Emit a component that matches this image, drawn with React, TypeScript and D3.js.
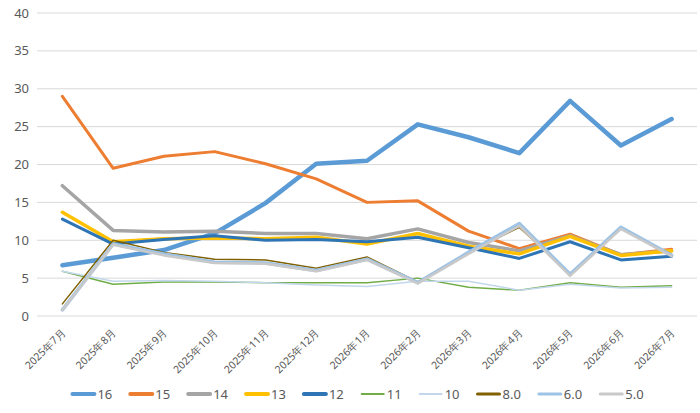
import * as d3 from 'd3'
import { useEffect } from 'react'

const months = [
  '2025年7月', '2025年8月', '2025年9月', '2025年10月', '2025年11月', '2025年12月',
  '2026年1月', '2026年2月', '2026年3月', '2026年4月', '2026年5月', '2026年6月', '2026年7月',
]

const yTicks = [0, 5, 10, 15, 20, 25, 30, 35, 40]

const seriesNames = ['16', '15', '14', '13', '12', '11', '10', '8.0', '6.0', '5.0']

const s16 = [6.7, 7.7, 8.7, 10.9, 14.9, 20.1, 20.5, 25.3, 23.6, 21.5, 28.4, 22.5, 26.0]
const s15 = [29.0, 19.5, 21.1, 21.7, 20.1, 18.1, 15.0, 15.2, 11.2, 8.9, 10.8, 8.1, 8.8]
const s14 = [17.2, 11.3, 11.1, 11.2, 10.9, 10.9, 10.2, 11.5, 9.7, 8.6, 10.6, 8.1, 8.6]
const s13 = [13.7, 9.8, 10.2, 10.3, 10.2, 10.4, 9.5, 10.9, 9.2, 8.2, 10.5, 8.0, 8.6]
const s12 = [12.8, 9.5, 10.1, 10.6, 10.0, 10.1, 9.8, 10.4, 9.0, 7.6, 9.8, 7.4, 7.9]
const s11 = [5.9, 4.2, 4.5, 4.5, 4.4, 4.4, 4.4, 5.0, 3.8, 3.4, 4.4, 3.8, 4.0]
const s10 = [5.9, 4.6, 4.7, 4.6, 4.4, 4.1, 3.9, 4.6, 4.6, 3.4, 4.2, 3.7, 3.8]
const s8 = [1.6, 10.0, 8.4, 7.5, 7.4, 6.3, 7.8, 4.5, 8.4, 11.7, 5.6, 11.5, 8.1]
const s6 = [0.8, 9.5, 8.2, 7.1, 7.0, 6.0, 7.5, 4.4, 8.4, 12.2, 5.5, 11.7, 8.0]
const s5 = [0.8, 9.4, 8.0, 7.0, 6.9, 5.9, 7.4, 4.3, 8.2, 11.9, 5.3, 11.5, 7.9]

const seriesValues = [s16, s15, s14, s13, s12, s11, s10, s8, s6, s5]

const colors = [
  '#5B9BD5', '#ED7D31', '#A5A5A5', '#FFC000', '#2E75B6',
  '#70AD47', '#C3D7EC', '#806000', '#9DC3E6', '#C9C9C9',
]
const widths = [4.5, 3, 3.5, 3.5, 3, 1.5, 1.5, 1.5, 3.5, 2.5]
const legendWidths = [4, 4, 4, 4, 4, 2, 2, 3, 3, 3]

const W = 700
const H = 413
const margin = { top: 13, right: 3, bottom: 97, left: 37 }
const font = '"Noto Sans", sans-serif'
const textColor = '#595959'

const App = () => {
  useEffect(() => {
    document.body.style.margin = '0'
  }, [])

  const x = d3
    .scalePoint<string>()
    .domain(months)
    .range([margin.left, W - margin.right])
    .padding(0.5)
  const y = d3
    .scaleLinear()
    .domain([0, 40])
    .range([H - margin.bottom, margin.top])

  const line = d3
    .line<number>()
    .x((_d, i) => x(months[i]) ?? 0)
    .y((d) => y(d))

  // legend layout from text widths
  const ctx = document.createElement('canvas').getContext('2d')
  if (ctx) ctx.font = '13px ' + font
  const measure = (t: string) => (ctx ? ctx.measureText(t).width : t.length * 7.5)
  const lineLen = 22
  const gap = 3
  const spacing = 18
  const itemW = seriesNames.map((n) => lineLen + gap + measure(n) + spacing)
  const total = d3.sum(itemW) - spacing
  const start = 358 - total / 2
  const offsets = itemW.map((_w, i) => start + d3.sum(itemW.slice(0, i)))
  const legendY = 394

  return (
    <svg width={W} height={H} style={{ display: 'block', background: '#fff' }}>
      <g>
        {yTicks.map((t) => (
          <g key={t}>
            <line
              x1={margin.left}
              x2={W - margin.right}
              y1={y(t)}
              y2={y(t)}
              stroke="#D9D9D9"
              strokeWidth={1}
            />
            <text
              x={29}
              y={y(t)}
              dy="0.35em"
              textAnchor="end"
              fontFamily={font}
              fontSize={13}
              fill={textColor}
            >
              {t}
            </text>
          </g>
        ))}
      </g>
      <g>
        {months.map((m) => {
          const px = (x(m) ?? 0) + 4
          const py = H - margin.bottom + 17
          return (
            <text
              key={m}
              x={px}
              y={py}
              transform={`rotate(-45,${px},${py})`}
              textAnchor="end"
              fontFamily={font}
              fontSize={10.5}
              fill={textColor}
            >
              {m}
            </text>
          )
        })}
      </g>
      <g fill="none" strokeLinejoin="round" strokeLinecap="round">
        {seriesValues.map((vals, i) => (
          <path
            key={seriesNames[i]}
            d={line(vals) ?? ''}
            stroke={colors[i]}
            strokeWidth={widths[i]}
          />
        ))}
      </g>
      <g>
        {seriesNames.map((n, i) => (
          <g key={n} transform={`translate(${offsets[i]},${legendY})`}>
            <line
              x1={0}
              x2={lineLen}
              y1={0}
              y2={0}
              stroke={colors[i]}
              strokeWidth={legendWidths[i]}
              strokeLinecap="round"
            />
            <text
              x={lineLen + gap}
              y={0}
              dy="0.35em"
              fontFamily={font}
              fontSize={13}
              fill={textColor}
            >
              {n}
            </text>
          </g>
        ))}
      </g>
    </svg>
  )
}

export default App
